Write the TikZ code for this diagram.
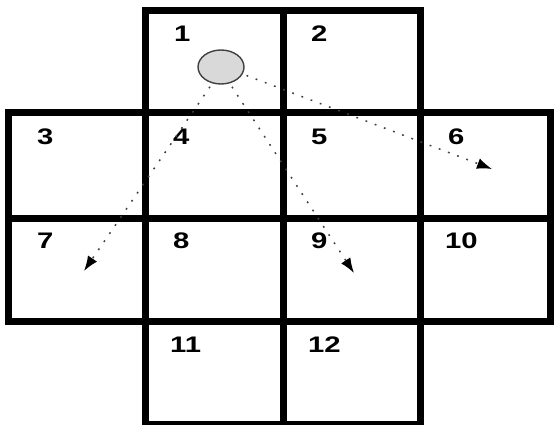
\documentclass[tikz,border=0pt]{standalone}
\usepackage{fontspec}
\setmainfont{Liberation Sans}
\usetikzlibrary{arrows.meta,shapes.geometric}
\begin{document}
\begin{tikzpicture}[x=1pt,y=-1pt,
  cellbox/.style={line width=7pt,line join=miter},
  lbl/.style={anchor=west,inner sep=0pt,font=\fontsize{22.5}{22.5}\selectfont\bfseries},
  ball/.style={ellipse,draw=black!75,line width=1.4pt,fill=black!15,minimum width=46pt,minimum height=34pt,inner sep=0pt},
  move/.style={draw=black!75,line width=1.5pt,dash pattern=on 1.8pt off 8pt,shorten <=4pt,-{Latex[length=15pt,width=11pt,fill=black,color=black]}}]
\useasboundingbox (0,0) rectangle (554,425);
% cells
\draw[cellbox] (145,10.5) rectangle (283,113);
\draw[cellbox] (283,10.5) rectangle (420,113);
\draw[cellbox] (8.5,113) rectangle (145,218);
\draw[cellbox] (145,113) rectangle (283,218);
\draw[cellbox] (283,113) rectangle (420,218);
\draw[cellbox] (420,113) rectangle (550.5,218);
\draw[cellbox] (8.5,218) rectangle (145,321);
\draw[cellbox] (145,218) rectangle (283,321);
\draw[cellbox] (283,218) rectangle (420,321);
\draw[cellbox] (420,218) rectangle (550.5,321);
\draw[cellbox] (145,321) rectangle (283,424);
\draw[cellbox] (283,321) rectangle (420,424);
% labels
\node[lbl] (l1) at (174,34) {\scalebox{1.3}[1]{1}};
\node[lbl] (l2) at (311,34) {\scalebox{1.3}[1]{2}};
\node[lbl] (l3) at (37,137) {\scalebox{1.3}[1]{3}};
\node[lbl] (l4) at (173,137) {\scalebox{1.3}[1]{4}};
\node[lbl] (l5) at (311,137) {\scalebox{1.3}[1]{5}};
\node[lbl] (l6) at (448,137) {\scalebox{1.3}[1]{6}};
\node[lbl] (l7) at (37,241) {\scalebox{1.3}[1]{7}};
\node[lbl] (l8) at (173,241) {\scalebox{1.3}[1]{8}};
\node[lbl] (l9) at (311,241) {\scalebox{1.3}[1]{9}};
\node[lbl] (l10) at (445,241) {\scalebox{1.3}[1]{10}};
\node[lbl] (l11) at (170,345) {\scalebox{1.3}[1]{11}};
\node[lbl] (l12) at (308,345) {\scalebox{1.3}[1]{12}};
% ball and moves
\node[ball] (b) at (221,67) {};
\coordinate (t7) at (84,271);
\coordinate (t9) at (354,273);
\coordinate (t6) at (492,169);
\draw[move] (b.-118) -- (t7);
\draw[move] (b.-62) -- (t9);
\draw[move] (b.-18) -- (t6);
\end{tikzpicture}
\end{document}
